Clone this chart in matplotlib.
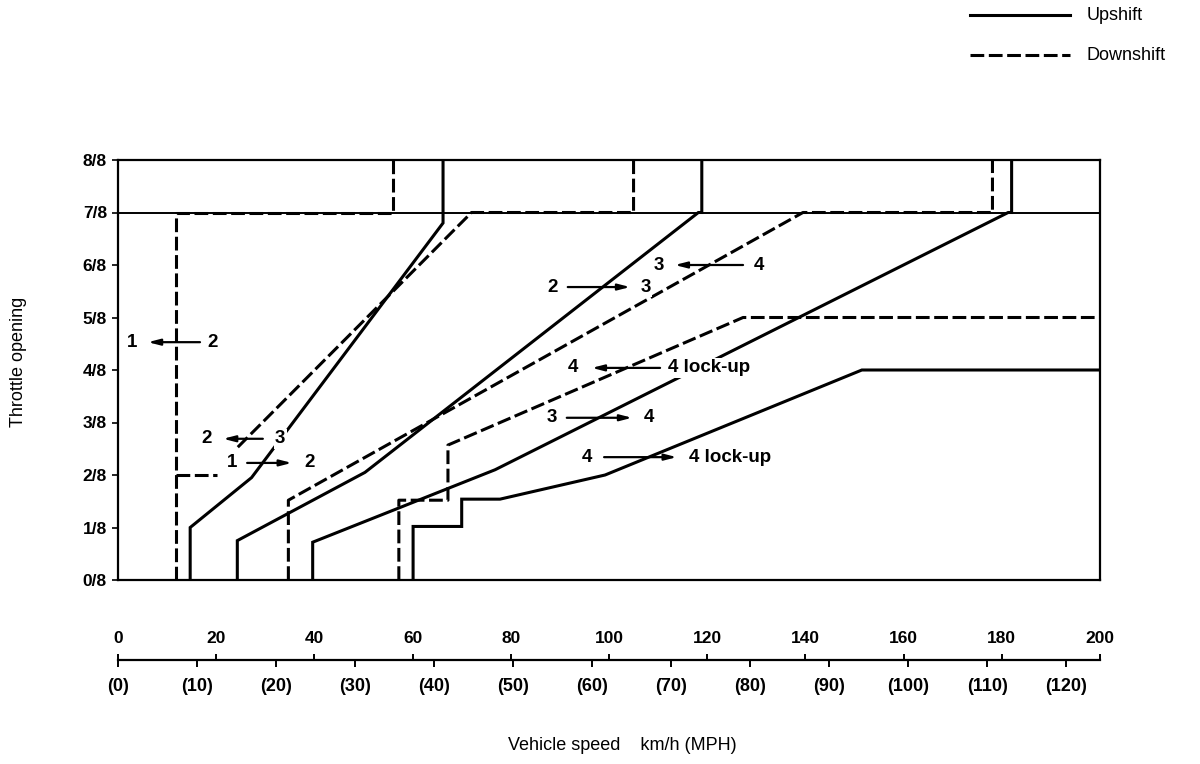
import matplotlib
matplotlib.use("Agg")
import matplotlib.pyplot as plt
from matplotlib.lines import Line2D

plt.rcParams['font.family'] = ['Liberation Sans', 'DejaVu Sans']

# vehicle speed in km/h, throttle opening in eighths
up_12_x = [14.7, 14.7, 27.2, 66.2, 66.2]
up_12_y = [0, 1.0, 1.95, 6.8, 8]
down_21_x = [11.8, 11.8, 56.0, 56.0]
down_21_y = [0, 7, 7, 8]
down_21_stub_x = [11.8, 20.2]
down_21_stub_y = [2, 2]

up_23_x = [24.3, 24.3, 50.3, 118.2, 118.9, 118.9]
up_23_y = [0, 0.75, 2.05, 7, 7, 8]
down_32_x = [24.4, 72.0, 105.0, 105.0]
down_32_y = [2.53, 7, 7, 8]

up_34_x = [39.65, 39.65, 76.8, 181.3, 182.0, 182.0]
up_34_y = [0, 0.72, 2.1, 7, 7, 8]
down_43_x = [34.7, 34.7, 139.5, 178.1, 178.1]
down_43_y = [0, 1.52, 7, 7, 8]

up_lu_x = [60.1, 60.1, 70.0, 70.0, 77.8, 99.2, 151.5, 200]
up_lu_y = [0, 1.02, 1.02, 1.54, 1.54, 2.0, 4.0, 4.0]
down_lu_x = [57.2, 57.2, 67.2, 67.2, 127.3, 200]
down_lu_y = [0, 1.52, 1.52, 2.57, 5, 5]

throttle_ticks = [0, 1, 2, 3, 4, 5, 6, 7, 8]
throttle_labels = [f'{i}/8' for i in throttle_ticks]
kmh_ticks = [0, 20, 40, 60, 80, 100, 120, 140, 160, 180, 200]
mph_ticks = [0, 10, 20, 30, 40, 50, 60, 70, 80, 90, 100, 110, 120]

W, H = 1200, 764
fig = plt.figure(figsize=(W / 100, H / 100), dpi=100)
ax = fig.add_axes([118 / W, (H - 580) / H, 982 / W, 420 / H])

LW = 2.2
dash = (0, (4.5, 1.5))
ax.axhline(7, color='black', lw=1.4)
for xs, ys in [(up_12_x, up_12_y), (up_23_x, up_23_y), (up_34_x, up_34_y), (up_lu_x, up_lu_y)]:
    ax.plot(xs, ys, color='black', lw=LW, solid_joinstyle='miter')
for xs, ys in [(down_21_x, down_21_y), (down_21_stub_x, down_21_stub_y), (down_32_x, down_32_y),
               (down_43_x, down_43_y), (down_lu_x, down_lu_y)]:
    ax.plot(xs, ys, color='black', lw=LW, linestyle=dash)

ax.set_xlim(0, 200)
ax.set_ylim(0, 8)
ax.set_xticks([])
ax.set_yticks(throttle_ticks)
ax.set_yticklabels(throttle_labels, fontsize=12.5, fontweight='bold')
ax.tick_params(axis='y', length=4, width=1.2, pad=4)
for s in ax.spines.values():
    s.set_linewidth(1.6)
ax.set_ylabel('Throttle opening', fontsize=13)
ax.yaxis.set_label_coords(-0.093, 0.52)

# white box behind the gear numbers breaks the curves like in the original
box = dict(facecolor='white', edgecolor='none', pad=1.0)
arrow = dict(arrowstyle='-|>,head_length=0.7,head_width=0.18', color='black', lw=1.6,
             shrinkA=0, shrinkB=0)

# shift labels: (left text, x, right text, x, arrow from, arrow to, y)
shift_labels = [
    ('1', 2.85, '2', 19.35, 16.7, 6.1, 4.53),
    ('2', 18.1, '3', 33.0, 29.5, 21.4, 2.69),
    ('1', 23.2, '2', 39.1, 26.3, 35.4, 2.23),
    ('2', 88.6, '3', 107.5, 91.6, 104.3, 5.58),
    ('3', 110.2, '4', 130.5, 127.3, 113.4, 6.0),
    ('3', 88.4, '4', 108.1, 91.4, 104.7, 3.09),
]
for lt, lx, rt, rx, a0, a1, yy in shift_labels:
    ax.text(lx, yy, lt, ha='center', va='center', fontsize=13.5, fontweight='bold', bbox=box, zorder=5)
    ax.text(rx, yy, rt, ha='center', va='center', fontsize=13.5, fontweight='bold', bbox=box, zorder=5)
    ax.annotate('', xy=(a1, yy), xytext=(a0, yy), arrowprops=arrow, zorder=6)

lockup_labels = [
    (92.7, 112.0, 110.4, 96.5, 4.04),
    (95.5, 116.3, 99.0, 113.8, 2.34),
]
for lx, rx, a0, a1, yy in lockup_labels:
    ax.text(lx, yy, '4', ha='center', va='center', fontsize=13.5, fontweight='bold', bbox=box, zorder=5)
    ax.text(rx, yy, '4 lock-up', ha='left', va='center', fontsize=13.5, fontweight='bold', bbox=box, zorder=5)
    ax.annotate('', xy=(a1, yy), xytext=(a0, yy), arrowprops=arrow, zorder=6)

# speed scale below the chart
ax2 = fig.add_axes([118 / W, (H - 660) / H, 982 / W, 0.5 / H])
ax2.set_xlim(0, 200)
ax2.set_yticks([])
for k in ['left', 'right', 'top']:
    ax2.spines[k].set_visible(False)
ax2.spines['bottom'].set_linewidth(1.6)
ax2.set_xticks(kmh_ticks)
ax2.set_xticklabels([str(v) for v in kmh_ticks], fontsize=12.5, fontweight='bold')
ax2.tick_params(axis='x', top=True, labeltop=True, bottom=False, labelbottom=False,
                direction='out', length=4, width=1.4, pad=6)
sec = ax2.secondary_xaxis('bottom', functions=(lambda v: v / 1.609344, lambda v: v * 1.609344))
sec.set_xticks(mph_ticks)
sec.set_xticklabels([f'({v})' for v in mph_ticks], fontsize=13, fontweight='bold')
sec.tick_params(direction='out', length=5, width=1.4, pad=8)
sec.spines['bottom'].set_visible(False)

fig.text(622 / W, 1 - 746 / H, 'Vehicle speed    km/h (MPH)', ha='center', va='center', fontsize=13)

# legend
fig.add_artist(Line2D([970 / W, 1070 / W], [1 - 15 / H, 1 - 15 / H], color='black', lw=LW))
fig.add_artist(Line2D([970 / W, 1070 / W], [1 - 55 / H, 1 - 55 / H], color='black', lw=LW, linestyle=dash))
fig.text(1087 / W, 1 - 15 / H, 'Upshift', ha='left', va='center', fontsize=13)
fig.text(1087 / W, 1 - 55 / H, 'Downshift', ha='left', va='center', fontsize=13)

fig.savefig('out.png', dpi=100)
